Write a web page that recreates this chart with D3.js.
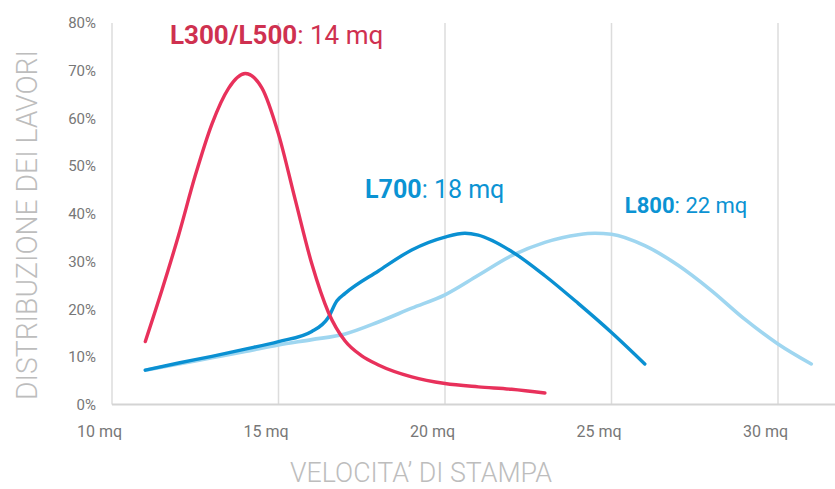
<!DOCTYPE html>
<html><head><meta charset="utf-8">
<script src="https://cdn.jsdelivr.net/npm/d3@7"></script>
<style>html,body{margin:0;padding:0;background:#fff;}svg{display:block;font-family:Roboto,"Open Sans",sans-serif;}</style>
</head><body>
<svg id="c" width="835" height="489"></svg>
<script>
const xTicks = [10, 15, 20, 25, 30];
const yTicks = [0, 10, 20, 30, 40, 50, 60, 70, 80];
const xTitle = "VELOCITA’ DI STAMPA";
const yTitle = "DISTRIBUZIONE DEI LAVORI";

const redX = [11, 11.5, 12, 12.5, 13, 13.5, 14, 14.5, 15, 15.5, 16, 16.5, 17, 17.5, 18, 19, 20, 21, 22, 23];
const redY = [13.2, 24.0, 35.5, 48.0, 58.8, 66.3, 69.4, 66.4, 56.7, 43.0, 29.5, 19.3, 13.3, 10.2, 8.3, 5.8, 4.4, 3.7, 3.2, 2.4];

const darkX = [11, 12, 13, 14, 15, 16, 16.5, 16.75, 17, 18, 19, 20, 20.6, 21, 22, 23, 24, 25, 26];
const darkY = [7.2, 8.7, 10.1, 11.6, 13.2, 15.3, 18.3, 21.7, 23.3, 28.0, 32.4, 35.1, 35.9, 35.5, 32.1, 27.0, 21.2, 15.1, 8.5];

const lightX = [11, 12, 13, 14, 15, 16, 17, 18, 19, 20, 21, 22, 23, 24, 24.5, 25, 26, 27, 28, 29, 30, 31];
const lightY = [7.2, 8.5, 9.8, 11.1, 12.5, 13.6, 14.8, 17.3, 20.2, 23.0, 27.1, 31.2, 34.0, 35.6, 35.9, 35.7, 33.3, 29.2, 23.9, 17.9, 12.7, 8.5];

const labels = [
  {bold: "L300/L500", rest: ": 14 mq", color: "#cf3150", size: 26, lx: 11.74, ly: 75.5},
  {bold: "L700", rest: ": 18 mq", color: "#0b93d3", size: 25, lx: 17.6, ly: 43.3},
  {bold: "L800", rest: ": 22 mq", color: "#0b93d3", size: 22, lx: 25.4, ly: 40.1}
];

const svg = d3.select("#c");
const W = 835;
const x = d3.scaleLinear().domain([10, 30]).range([112, 778]);
const y = d3.scaleLinear().domain([0, 80]).range([404.5, 23]);

// vertical gridlines
svg.append("g").selectAll("line").data(xTicks).join("line")
  .attr("x1", d => x(d)).attr("x2", d => x(d))
  .attr("y1", y(80)).attr("y2", y(0))
  .attr("stroke", "#dcdcdc").attr("stroke-width", 1.5);
// baseline
svg.append("line").attr("x1", x(10)).attr("x2", W).attr("y1", y(0)).attr("y2", y(0))
  .attr("stroke", "#d4d4d4").attr("stroke-width", 2);

// y tick labels
svg.append("g").selectAll("text").data(yTicks).join("text")
  .attr("x", 96).attr("y", d => y(d)).attr("dy", "0.36em")
  .attr("text-anchor", "end").attr("font-size", 15).attr("fill", "#777")
  .text(d => d + "%");
// x tick labels
svg.append("g").selectAll("text").data(xTicks).join("text")
  .attr("x", d => x(d) - 12.5).attr("y", 437)
  .attr("text-anchor", "middle").attr("font-size", 16).attr("fill", "#777")
  .text(d => d + " mq");

// axis titles
svg.append("text").attr("x", 421).attr("y", 482).attr("text-anchor", "middle")
  .attr("font-size", 27).attr("font-weight", 300).attr("fill", "#bdbdbd")
  .attr("textLength", 262).attr("lengthAdjust", "spacingAndGlyphs")
  .text(xTitle);
svg.append("text").attr("transform", "translate(37,225) rotate(-90)")
  .attr("text-anchor", "middle")
  .attr("font-size", 30).attr("font-weight", 300).attr("fill", "#bdbdbd")
  .attr("textLength", 350).attr("lengthAdjust", "spacingAndGlyphs")
  .text(yTitle);

const line = d3.line().x(d => x(d[0])).y(d => y(d[1])).curve(d3.curveMonotoneX);
const series = [
  {xs: lightX, ys: lightY, color: "#9fd6f0", w: 3.6},
  {xs: darkX, ys: darkY, color: "#0a90d2", w: 3.4},
  {xs: redX, ys: redY, color: "#e8315b", w: 3.4}
];
series.forEach(s => {
  svg.append("path").datum(d3.zip(s.xs, s.ys)).attr("d", line)
    .attr("fill", "none").attr("stroke", s.color).attr("stroke-width", s.w)
    .attr("stroke-linecap", "round").attr("stroke-linejoin", "round");
});

labels.forEach(l => {
  const t = svg.append("text").attr("x", x(l.lx)).attr("y", y(l.ly))
    .attr("font-size", l.size).attr("fill", l.color);
  t.append("tspan").attr("font-weight", 700).text(l.bold);
  t.append("tspan").attr("font-weight", 400).text(l.rest);
});
</script>
</body></html>
